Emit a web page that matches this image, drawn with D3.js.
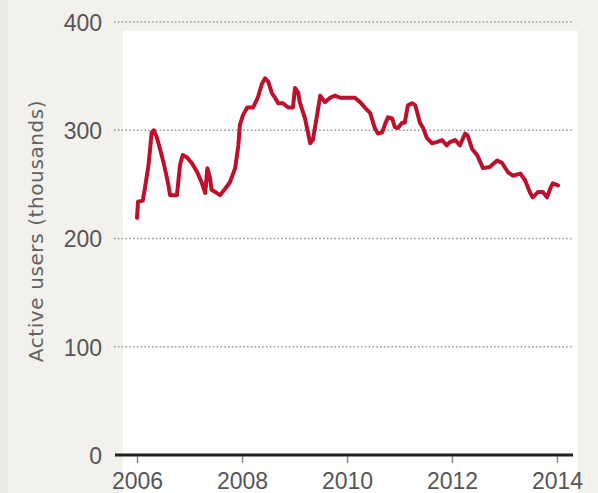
<!DOCTYPE html>
<html>
<head>
<meta charset="utf-8">
<script src="https://cdn.jsdelivr.net/npm/d3@7"></script>
<style>
  html, body { margin: 0; padding: 0; background: #f2f1ed; }
  svg { display: block; }
</style>
</head>
<body>
<svg id="chart" width="598" height="493"></svg>
<script>
// ---- data ----
const years = [
  2006.00, 2006.02, 2006.11, 2006.15, 2006.22, 2006.28, 2006.32, 2006.38, 2006.47, 2006.53,
  2006.60, 2006.63, 2006.76, 2006.82, 2006.87, 2006.95, 2007.04, 2007.14, 2007.23, 2007.30,
  2007.34, 2007.39, 2007.42, 2007.49, 2007.58, 2007.68, 2007.77, 2007.87, 2007.93, 2007.96,
  2008.02, 2008.10, 2008.21, 2008.30, 2008.38, 2008.44, 2008.50, 2008.57, 2008.63, 2008.69,
  2008.78, 2008.88, 2008.97, 2009.01, 2009.07, 2009.10, 2009.20, 2009.30, 2009.35, 2009.43,
  2009.49, 2009.58, 2009.68, 2009.77, 2009.87, 2010.00, 2010.15, 2010.25, 2010.34, 2010.44,
  2010.53, 2010.59, 2010.67, 2010.72, 2010.78, 2010.86, 2010.91, 2010.97, 2011.05, 2011.10,
  2011.16, 2011.24, 2011.30, 2011.35, 2011.39, 2011.45, 2011.52, 2011.62, 2011.71, 2011.81,
  2011.90, 2011.96, 2012.06, 2012.15, 2012.25, 2012.30, 2012.38, 2012.48, 2012.59, 2012.72,
  2012.86, 2012.95, 2013.07, 2013.16, 2013.30, 2013.39, 2013.49, 2013.54, 2013.64, 2013.73,
  2013.81, 2013.87, 2013.92, 2014.02
];
const activeUsers = [
  219, 234, 235, 246, 268, 298, 300, 293, 277, 265,
  249, 240, 240, 268, 277, 275, 270, 262, 252, 242,
  265, 256, 245, 243, 240, 246, 252, 265, 286, 305,
  314, 321, 321, 330, 343, 348, 345, 334, 330, 325,
  325, 321, 321, 339, 335, 326, 311, 288, 291, 314,
  332, 326, 330, 332, 330, 330, 330, 326, 321, 316,
  302, 297, 298, 305, 312, 311, 303, 302, 307, 307,
  323, 325, 323, 314, 307, 302, 293, 288, 289, 291,
  286, 289, 291, 286, 297, 295, 283, 277, 265, 266,
  272, 270, 261, 258, 260, 254, 242, 238, 243, 243,
  238, 246, 251, 249
];
const yTicks = [0, 100, 200, 300, 400];
const xTicks = [2006, 2008, 2010, 2012, 2014];
const yTitle = "Active users (thousands)";

const data = years.map((y, i) => ({ year: y, value: activeUsers[i] }));

// ---- layout ----
const svg = d3.select("#chart");
const W = 598, H = 493;
const x = d3.scaleLinear().domain([2006, 2014]).range([137, 557]);
const y = d3.scaleLinear().domain([0, 400]).range([455, 22]);

// background pieces
svg.append("rect").attr("x", 0).attr("y", 0).attr("width", W).attr("height", H).attr("fill", "#f2f1ed");
svg.append("rect").attr("x", 0).attr("y", 0).attr("width", 8).attr("height", H).attr("fill", "#ebeae6");
svg.append("rect").attr("x", 123).attr("y", 31).attr("width", 455).attr("height", H - 31).attr("fill", "#ffffff");

const font = "'Liberation Sans', Arial, sans-serif";

// gridlines (dotted)
const gridG = svg.append("g");
gridG.selectAll("line").data(yTicks.filter(d => d > 0)).join("line")
  .attr("x1", 114).attr("x2", 572)
  .attr("y1", d => y(d)).attr("y2", d => y(d))
  .attr("stroke", "#9a9a9a").attr("stroke-width", 1.5)
  .attr("stroke-dasharray", "1.6,2.2");

// y tick labels
const yAxis = d3.axisLeft(y).tickValues(yTicks).tickSize(0).tickPadding(0);
const yg = svg.append("g").attr("transform", "translate(102,0)").call(yAxis);
yg.select(".domain").remove();
yg.selectAll("text")
  .attr("font-family", font).attr("font-size", 23).attr("fill", "#555555")
  .attr("dy", "0.36em");

// x axis
const xAxis = d3.axisBottom(x).tickValues(xTicks).tickFormat(d3.format("d")).tickSize(8).tickPadding(10);
const xg = svg.append("g").attr("transform", "translate(0,455)").call(xAxis);
xg.select(".domain").remove();
xg.selectAll(".tick line").attr("stroke", "#8a8a8a").attr("stroke-width", 1.5);
xg.selectAll("text")
  .attr("font-family", font).attr("font-size", 23).attr("fill", "#555555")
  .attr("dy", "0.71em");

// axis baseline
svg.append("line")
  .attr("x1", 115).attr("x2", 573)
  .attr("y1", y(0)).attr("y2", y(0))
  .attr("stroke", "#1e1e1e").attr("stroke-width", 3);

// y title
svg.append("text")
  .attr("transform", "translate(43,231) rotate(-90)")
  .attr("text-anchor", "middle")
  .attr("font-family", "'DejaVu Sans', sans-serif")
  .attr("font-size", 20)
  .attr("letter-spacing", 0.6)
  .attr("fill", "#626262")
  .text(yTitle);

// line
const line = d3.line().x(d => x(d.year)).y(d => y(d.value)).curve(d3.curveLinear);
svg.append("path")
  .datum(data)
  .attr("d", line)
  .attr("fill", "none")
  .attr("stroke", "#bd102c")
  .attr("stroke-width", 4)
  .attr("stroke-linejoin", "round")
  .attr("stroke-linecap", "round");
</script>
</body>
</html>
